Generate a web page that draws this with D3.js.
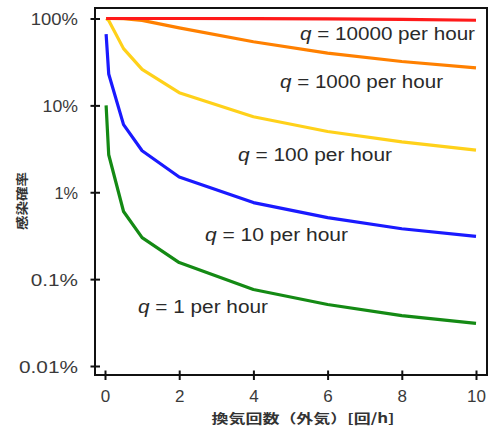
<!DOCTYPE html>
<html><head><meta charset="utf-8">
<script src="https://cdn.jsdelivr.net/npm/d3@7"></script>
<style>body{margin:0;background:#fff}svg{display:block}</style>
</head><body>
<script>
const airChanges = [0.03, 0.1, 0.5, 1, 2, 4, 6, 8, 10];
const q1     = [10, 2.7, 0.6, 0.3, 0.155, 0.076, 0.051, 0.038, 0.031];
const q10    = [66, 23, 6.0, 3.0, 1.5, 0.76, 0.51, 0.38, 0.31];
const q100   = [100, 95, 45, 26, 14, 7.4, 5.0, 3.8, 3.05];
const q1000  = [100, 100, 99.7, 95, 78, 54, 40, 32, 27];
const q10000 = [100, 100, 100, 100, 100, 99.8, 99, 97.5, 95.5];
const seriesNames = ["q = 1 per hour","q = 10 per hour","q = 100 per hour","q = 1000 per hour","q = 10000 per hour"];
const xTicks = [0, 2, 4, 6, 8, 10];
const yTicks = [0.01, 0.1, 1, 10, 100];
const yTickLabels = ["0.01%", "0.1%", "1%", "10%", "100%"];

const W = 491, H = 430;
const svg = d3.select("body").append("svg").attr("width", W).attr("height", H);
const x = d3.scaleLinear().domain([0, 10]).range([105, 476]);
const y = d3.scaleLog().domain([0.01, 100]).range([366, 18.5]);
const frame = {l: 95, r: 487, t: 8, b: 375};

const series = [
  {v: q1, c: "#148a14", lab: [138, 313, 130]},
  {v: q10, c: "#1a1aff", lab: [205, 241, 143]},
  {v: q100, c: "#ffd11a", lab: [238, 161, 154]},
  {v: q1000, c: "#ff8000", lab: [280, 88, 163]},
  {v: q10000, c: "#ff1a1a", lab: [300, 40, 175]}
];

const line = d3.line().x((d, i) => x(airChanges[i])).y(d => y(d));
series.forEach(s => {
  svg.append("path").datum(s.v).attr("d", line)
    .attr("fill", "none").attr("stroke", s.c).attr("stroke-width", 3.2)
    .attr("stroke-linejoin", "round");
});

// frame
svg.append("rect").attr("x", frame.l).attr("y", frame.t)
  .attr("width", frame.r - frame.l).attr("height", frame.b - frame.t)
  .attr("fill", "none").attr("stroke", "#111").attr("stroke-width", 2);

// y axis
const yAx = svg.append("g").attr("transform", `translate(${frame.l},0)`)
  .call(d3.axisLeft(y).tickValues(yTicks).tickFormat((d, i) => yTickLabels[i]).tickSizeOuter(0).tickPadding(11));
yAx.select(".domain").remove();
yAx.selectAll(".tick line").attr("x1", -4.5).attr("x2", 5).attr("stroke", "#111").attr("stroke-width", 2);
yAx.selectAll(".tick text").attr("font-family", "Liberation Sans, Arial, sans-serif")
  .attr("font-size", 17).attr("fill", "#3a3a3a").attr("dy", "0.36em")
  .each(function(){ const t=d3.select(this); const s=t.text(); t.attr("textLength", s.length*11.8).attr("lengthAdjust","spacingAndGlyphs"); });

// x axis
const xAx = svg.append("g").attr("transform", `translate(0,${frame.b})`)
  .call(d3.axisBottom(x).tickValues(xTicks).tickFormat(d3.format("d")).tickSizeOuter(0).tickPadding(11));
xAx.select(".domain").remove();
xAx.selectAll(".tick line").attr("y1", -4.5).attr("y2", 5).attr("stroke", "#111").attr("stroke-width", 2);
xAx.selectAll(".tick text").attr("font-family", "Liberation Sans, Arial, sans-serif")
  .attr("font-size", 17).attr("fill", "#3a3a3a").attr("dy", "0.6em");

// series labels
series.forEach((s, i) => {
  const t = svg.append("text").attr("x", s.lab[0]).attr("y", s.lab[1])
    .attr("font-family", "Liberation Sans, Arial, sans-serif").attr("font-size", 17.5)
    .attr("fill", "#2a2a2a").attr("textLength", s.lab[2]).attr("lengthAdjust", "spacingAndGlyphs");
  const parts = seriesNames[i].split(" ");
  t.append("tspan").attr("font-style", "italic").text(parts[0]);
  t.append("tspan").text(" " + parts.slice(1).join(" "));
});

// axis titles
svg.append("text").attr("transform", "translate(27,201) rotate(-90)")
  .attr("text-anchor", "middle").attr("font-family", "Noto Sans CJK JP, sans-serif")
  .attr("font-weight", "bold").attr("font-size", 12).attr("fill", "#333")
  .attr("textLength", 58).attr("lengthAdjust", "spacingAndGlyphs").text("感染確率");
svg.append("text").attr("x", 303).attr("y", 423)
  .attr("text-anchor", "middle").attr("font-family", "Noto Sans CJK JP, sans-serif")
  .attr("font-weight", "bold").attr("font-size", 13).attr("fill", "#333")
  .attr("textLength", 183).attr("lengthAdjust", "spacingAndGlyphs").text("換気回数（外気）[回/h]");
</script>
</body></html>
